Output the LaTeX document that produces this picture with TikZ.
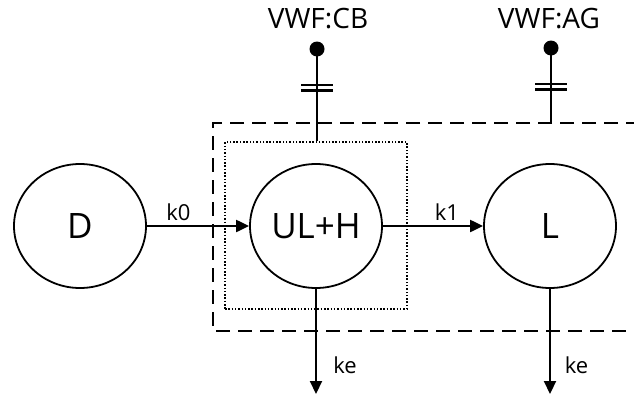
\documentclass[tikz,border=0pt]{standalone}
\usepackage{fontspec}
\setmainfont{Open Sans}
\usetikzlibrary{shapes.geometric,arrows.meta}
\begin{document}
\begin{tikzpicture}[x=1pt,y=-1pt,
  state/.style={ellipse,draw,line width=1.8pt,minimum width=132pt,minimum height=124pt,inner sep=0pt,font=\fontsize{35}{40}\selectfont},
  flow/.style={line width=2.1pt,-{Triangle[length=13pt,width=12pt]}},
  rate/.style={anchor=base,inner sep=0pt,font=\fontsize{22}{24}\selectfont},
  site/.style={anchor=base,inner sep=0pt,font=\fontsize{28}{30}\selectfont},
  link/.style={line width=2.1pt},
  blob/.style={circle,fill,inner sep=0pt,minimum size=15pt},
  dotbox/.style={draw,line width=1.5pt,dash pattern=on 1.5pt off 1.8pt,minimum width=182pt,minimum height=167pt,inner sep=0pt},
  dashbox/.style={line width=2.1pt,dash pattern=on 14pt off 8pt}
]
\useasboundingbox (0,0) rectangle (634,394);
% compartments
\draw[dashbox] (640,123) -- (213,123) -- (213,331) -- (640,331);
\node[dotbox] (box) at (316,225.5) {};
% states
\node[state] (D) at (80,226) {D};
\node[state] (U) at (316,226) {UL+H};
\node[state] (L) at (550,226) {L};
% binding sites
\node[site] (cb) at (318,28) {VWF:CB};
\node[site] (ag) at (549,28) {VWF:AG};
\node[blob] (cbdot) at (317,49) {};
\node[blob] (agdot) at (551,48) {};
\coordinate (agin) at (551,123);
\draw[link] (cbdot.center) -- (cbdot.center |- box.north);
\draw[link] (agdot.center) -- (agin);
\draw[link] (301,85) -- (333,85) (301,90.5) -- (333,90.5);
\draw[link] (535,84) -- (567,84) (535,89.5) -- (567,89.5);
% flows
\draw[flow] (D.east) -- (U.west);
\draw[flow] (U.east) -- (L.west);
\coordinate (uout) at (316,394);
\coordinate (lout) at (550,394);
\draw[flow] (U.south) -- (uout);
\draw[flow] (L.south) -- (lout);
% rate labels
\node[rate] (k0) at (178.5,220.5) {k0};
\node[rate] (k1) at (447,220.5) {k1};
\node[rate] (ke1) at (345,373) {ke};
\node[rate] (ke2) at (576.5,373) {ke};
\end{tikzpicture}
\end{document}
